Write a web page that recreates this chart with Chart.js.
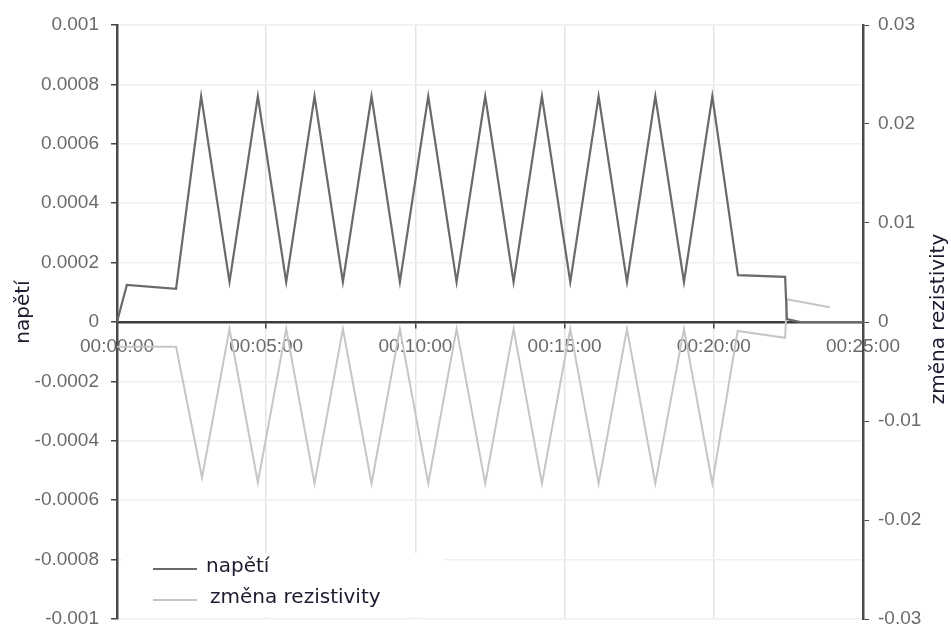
<!DOCTYPE html>
<html>
<head>
<meta charset="utf-8">
<title>napětí / změna rezistivity</title>
<script src="https://cdn.jsdelivr.net/npm/chart.js@4"></script>
<style>
  html, body { margin: 0; padding: 0; background: #fff; }
  #wrap { width: 951px; height: 630px; position: relative; }
</style>
</head>
<body>
<div id="wrap"><canvas id="graf"></canvas></div>
<script>
// čas v minutách od začátku měření
const napetiCas = [0, 0.33, 1.98, 2.82, 3.77, 4.72, 5.67, 6.62, 7.57, 8.53, 9.48, 10.43, 11.38,
  12.34, 13.29, 14.24, 15.19, 16.14, 17.09, 18.04, 19.0, 19.95, 20.81, 22.39, 22.45, 22.9, 25];
const napetiHodnoty = [0, 0.000125, 0.000112, 0.00076, 0.000135, 0.00076, 0.000135, 0.00076,
  0.000135, 0.00076, 0.000135, 0.00076, 0.000135, 0.00076, 0.000135, 0.00076, 0.000135, 0.00076,
  0.000135, 0.00076, 0.000135, 0.00076, 0.000158, 0.000152, 0.00001, 0, 0];

const rezistCas = [0, 1.98, 2.85, 3.77, 4.72, 5.67, 6.62, 7.57, 8.53, 9.48, 10.43, 11.38, 12.34,
  13.29, 14.24, 15.19, 16.14, 17.09, 18.04, 19.0, 19.95, 20.8, 22.39, 22.45, 23.89];
const rezistHodnoty = [-0.0025, -0.0025, -0.0157, -0.0007, -0.0162, -0.0007, -0.0163, -0.0007,
  -0.0163, -0.0007, -0.0163, -0.0007, -0.0163, -0.0007, -0.0163, -0.0007, -0.0163, -0.0007,
  -0.0163, -0.0007, -0.0163, -0.0009, -0.0016, 0.0023, 0.0015];

const nazevNapeti = 'napětí';
const nazevRezist = 'změna rezistivity';

function body(casy, hodnoty) {
  return casy.map((t, i) => ({ x: t, y: hodnoty[i] }));
}

function formatCas(min) {
  const h = Math.floor(min / 60);
  const m = Math.floor(min % 60);
  const pad = n => String(n).padStart(2, '0');
  return pad(h) + ':' + pad(m) + ':00';
}

// pevná šířka svislé osy, popisky krajních hodnot smí přečnívat
function pevnaOsa(sirka) {
  return s => {
    s.width = sirka;
    s.paddingTop = 0;
    s.paddingBottom = 0;
  };
}

const tickFont = { family: '"Liberation Sans", Arial, sans-serif', size: 19 };
const titleFont = '20px "DejaVu Sans", sans-serif';

// popisky os a legenda uvnitř grafu
const popisky = {
  id: 'popisky',
  afterDatasetsDraw(chart) {
    const ctx = chart.ctx;
    const ds = chart.data.datasets;
    ctx.save();
    ctx.fillStyle = '#fff';
    ctx.fillRect(122, 553, 323, 64);
    ctx.font = titleFont;
    ctx.textBaseline = 'middle';
    const radky = [{ y: 569, i: 0 }, { y: 600, i: 1 }];
    radky.forEach(r => {
      ctx.strokeStyle = ds[r.i].borderColor;
      ctx.lineWidth = 2;
      ctx.beginPath();
      ctx.moveTo(153, r.y);
      ctx.lineTo(197, r.y);
      ctx.stroke();
      ctx.fillStyle = '#1c1c30';
      ctx.textAlign = 'left';
      ctx.fillText(ds[r.i].label, r.i === 0 ? 206 : 210, r.y - 2);
    });
    ctx.restore();
  },
  afterDraw(chart) {
    const ctx = chart.ctx;
    [[nazevNapeti, 24, 312], [nazevRezist, 939, 319]].forEach(([text, x, y]) => {
      ctx.save();
      ctx.font = titleFont;
      ctx.fillStyle = '#1c1c30';
      ctx.textAlign = 'center';
      ctx.textBaseline = 'middle';
      ctx.translate(x, y);
      ctx.rotate(-Math.PI / 2);
      ctx.fillText(text, 0, 0);
      ctx.restore();
    });
  }
};

new Chart(document.getElementById('graf'), {
  type: 'line',
  data: {
    datasets: [
      {
        label: nazevNapeti,
        data: body(napetiCas, napetiHodnoty),
        yAxisID: 'y',
        borderColor: '#6a6a6a',
        borderWidth: 2.2,
        pointRadius: 0,
        tension: 0
      },
      {
        label: nazevRezist,
        data: body(rezistCas, rezistHodnoty),
        yAxisID: 'y2',
        borderColor: '#c6c6c6',
        borderWidth: 2,
        pointRadius: 0,
        tension: 0
      }
    ]
  },
  options: {
    responsive: true,
    maintainAspectRatio: false,
    animation: false,
    layout: { padding: { left: 0, right: 0, top: 25, bottom: 11 } },
    plugins: {
      legend: { display: false },
      tooltip: { enabled: false }
    },
    scales: {
      x: {
        type: 'linear',
        position: { y: 0 },
        min: 0,
        max: 25,
        afterFit: s => { s.height = 0; },
        ticks: {
          stepSize: 5,
          color: '#6a6a6a',
          font: tickFont,
          padding: 8,
          maxRotation: 0,
          callback: v => formatCas(v)
        },
        grid: { color: '#e4e4e4', lineWidth: 1.5, tickColor: '#444', tickLength: 5 },
        border: { color: '#3a3a3a', width: 2.5 }
      },
      y: {
        position: 'left',
        min: -0.001,
        max: 0.001,
        afterFit: pevnaOsa(117),
        ticks: {
          stepSize: 0.0002,
          color: '#6a6a6a',
          font: tickFont,
          padding: 12,
          callback: v => String(Number(v.toFixed(4)))
        },
        grid: { color: '#efefef', lineWidth: 1.5, tickColor: '#444', tickLength: 6 },
        border: { color: '#4a4a4a', width: 2.5 }
      },
      y2: {
        position: 'right',
        min: -0.03,
        max: 0.03,
        afterFit: pevnaOsa(88),
        ticks: {
          stepSize: 0.01,
          color: '#6a6a6a',
          font: tickFont,
          padding: 9,
          callback: v => String(Number(v.toFixed(2)))
        },
        grid: { drawOnChartArea: false, tickColor: '#444', tickLength: 6 },
        border: { color: '#4a4a4a', width: 2.5 }
      }
    }
  },
  plugins: [popisky]
});
</script>
</body>
</html>
